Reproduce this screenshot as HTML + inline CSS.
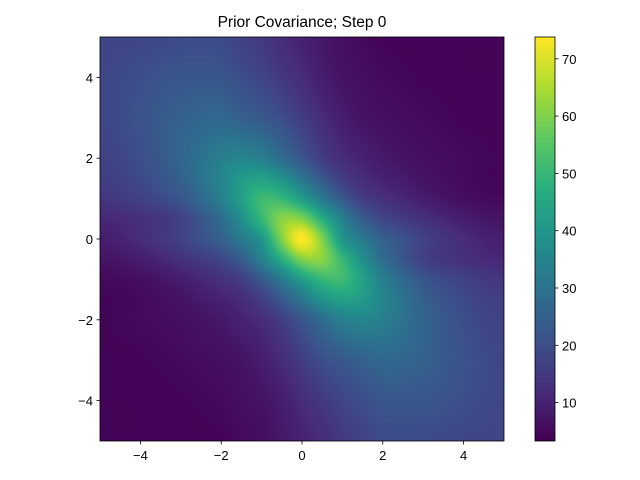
<!DOCTYPE html>
<html><head><meta charset="utf-8">
<style>
body{margin:0;background:#fff;}
#wrap{position:relative;width:640px;height:480px;font-family:"Liberation Sans",sans-serif;}
canvas{position:absolute;}
svg{position:absolute;left:0;top:0;}
text{font-family:"Liberation Sans",sans-serif;font-size:13px;fill:#000;}
</style></head>
<body>
<div id="wrap">
<canvas id="hm" width="404" height="404" style="left:100px;top:37px"></canvas>
<canvas id="cb" width="20" height="404" style="left:535px;top:37px"></canvas>
<svg id="svg" width="640" height="480"></svg>
</div>
<script>
const xCoords=[-5,-4,-3,-2,-1.5,-1,-0.5,0,0.5,1,1.5,2,3,4,5];
const yCoords=[5,4,3,2,1.5,1,0.5,0,-0.5,-1,-1.5,-2,-3,-4,-5];
const gridValues=[
[18,18,19,19,17,15,12,10,8,6,5,4,4,4,4],
[18,20,22,22,20,18,15,12,9,7,6,5,4,4,4],
[18,21,25,27,25,23,20,16,12,9,7,6,5,4,4],
[17,20,26,33,35,33,28,22,16,12,10,8,6,5,4],
[16,19,25,35,41,43,39,31,23,16,12,10,7,5,4],
[14,17,22,33,43,51,50,42,32,23,16,13,9,6,5],
[11,13,17,28,38,50,61,60,47,34,24,18,13,9,7],
[9,12,17,25,32,40,60,74,60,40,32,25,17,12,9],
[7,9,13,18,24,34,47,60,61,50,38,28,17,13,11],
[5,6,9,13,16,23,32,42,50,51,43,33,22,17,14],
[4,5,7,10,12,16,23,31,39,43,41,35,25,19,16],
[4,5,6,8,10,12,16,22,28,33,35,33,26,20,17],
[4,4,5,6,7,9,12,16,20,23,25,27,25,21,18],
[4,4,4,5,6,7,9,12,15,18,20,22,22,20,18],
[4,4,4,4,5,6,8,10,12,15,17,19,19,18,18]];
const xTicks=[-4,-2,0,2,4];
const yTicks=[-4,-2,0,2,4];
const cbTicks=[10,20,30,40,50,60,70];
const vmin=3.3, vmax=73.8;
const title="Prior Covariance; Step 0";

const X0=100,X1=504,Y0=37,Y1=441;
const sx=v=>X0+(v+5)/10*(X1-X0);
const sy=v=>Y1-(v+5)/10*(Y1-Y0);
const CB0=535,CB1=555;
const sc=v=>Y1-(v-vmin)/(vmax-vmin)*(Y1-Y0);

const stops=["#440154","#472d7b","#3b528b","#2c728e","#21918c","#28ae80","#5ec962","#addc30","#fde725"].map(h=>[1,3,5].map(i=>parseInt(h.substr(i,2),16)));
function viridis(t){t=Math.max(0,Math.min(1,t));const f=t*8,i=Math.min(7,Math.floor(f)),r=f-i;return stops[i].map((c,k)=>c+(stops[i+1][k]-c)*r);}
function cr(p0,p1,p2,p3,t){return 0.5*(2*p1+(-p0+p2)*t+(2*p0-5*p1+4*p2-p3)*t*t+(-p0+3*p1-3*p2+p3)*t*t*t);}
function toIndex(arr,v){
  const asc=arr[arr.length-1]>arr[0];
  for(let i=0;i<arr.length-1;i++){
    const a=arr[i],b=arr[i+1];
    if(asc?(v>=a&&v<=b):(v<=a&&v>=b))return i+(v-a)/(b-a);
  }
  return asc?(v<arr[0]?0:arr.length-1):(v>arr[0]?0:arr.length-1);
}
function sample(gx,gy){
  const n=xCoords.length,m=yCoords.length;
  const ix=Math.min(n-2,Math.floor(gx)),iy=Math.min(m-2,Math.floor(gy)),tx=gx-ix,ty=gy-iy;
  const g=(r,c)=>gridValues[Math.max(0,Math.min(m-1,r))][Math.max(0,Math.min(n-1,c))];
  const rows=[];
  for(let r=-1;r<=2;r++)rows.push(cr(g(iy+r,ix-1),g(iy+r,ix),g(iy+r,ix+1),g(iy+r,ix+2),tx));
  return cr(rows[0],rows[1],rows[2],rows[3],ty);
}
const hm=document.getElementById('hm').getContext('2d');
const W=404,H=404,img=hm.createImageData(W,H);
for(let py=0;py<H;py++){
  const vy=5-(py+0.5)/H*10, gy=toIndex(yCoords,vy);
  for(let px=0;px<W;px++){
    const vx=-5+(px+0.5)/W*10, gx=toIndex(xCoords,vx);
    const v=sample(gx,gy);const c=viridis((v-vmin)/(vmax-vmin));
    const o=(py*W+px)*4;img.data[o]=c[0];img.data[o+1]=c[1];img.data[o+2]=c[2];img.data[o+3]=255;
  }
}
hm.putImageData(img,0,0);
const cb=document.getElementById('cb').getContext('2d');
for(let py=0;py<404;py++){const c=viridis(1-(py+0.5)/404);cb.fillStyle=`rgb(${c.map(Math.round).join(',')})`;cb.fillRect(0,py,20,1);}

const svg=document.getElementById('svg');const NS="http://www.w3.org/2000/svg";
function mk(tag,attrs,txt){const e=document.createElementNS(NS,tag);for(const k in attrs)e.setAttribute(k,attrs[k]);if(txt!==undefined)e.textContent=txt;svg.appendChild(e);return e;}
const fmt=v=>v<0?"\u2212"+Math.abs(v):String(v);
let e=mk('rect',{x:X0,y:Y0,width:X1-X0,height:Y1-Y0,fill:'none',stroke:'#000','stroke-width':0.8});


xTicks.forEach(v=>{const x=sx(v);
  let l=mk('line',{x1:x,x2:x,y1:Y1,y2:Y1+3.5,stroke:'#000','stroke-width':0.8});
  
  
  let t=mk('text',{x:x,y:Y1+19,'text-anchor':'middle'},fmt(v));
  
  
});
yTicks.forEach(v=>{const y=sy(v);
  let l=mk('line',{x1:X0-3.5,x2:X0,y1:y,y2:y,stroke:'#000','stroke-width':0.8});
  
  
  let t=mk('text',{x:X0-7,y:y+5,'text-anchor':'end'},fmt(v));
  
  
});
e=mk('rect',{x:CB0,y:Y0,width:CB1-CB0,height:Y1-Y0,fill:'none',stroke:'#000','stroke-width':0.8});


cbTicks.forEach(v=>{const y=sc(v);
  let l=mk('line',{x1:CB1,x2:CB1+3.5,y1:y,y2:y,stroke:'#000','stroke-width':0.8});
  
  
  let t=mk('text',{x:CB1+7,y:y+5,'text-anchor':'start'},String(v));
  
  
});
e=mk('text',{x:(X0+X1)/2,y:27,'text-anchor':'middle',style:'font-size:15.5px'},title);


</script>
</body></html>
